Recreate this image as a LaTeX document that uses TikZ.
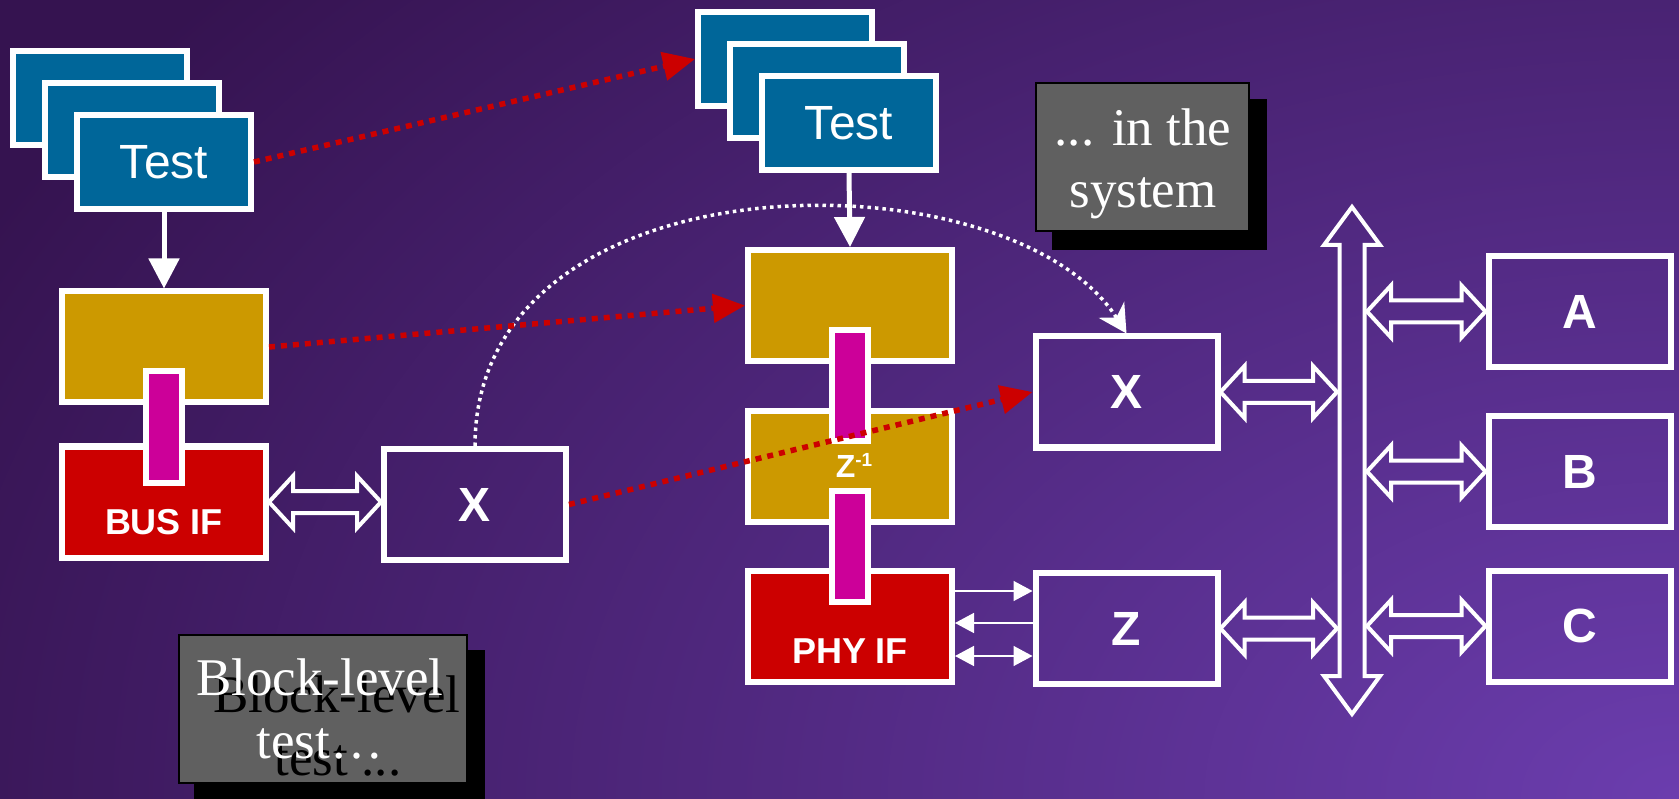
\documentclass[tikz,border=0pt]{standalone}
\usepackage{fontspec}
\setmainfont{Liberation Serif}
\newfontfamily\arial{Liberation Sans}
\usetikzlibrary{arrows.meta,calc}

\definecolor{bgdark}{HTML}{351350}
\definecolor{bglight}{HTML}{6B3DAE}
\definecolor{testblue}{HTML}{006699}
\definecolor{goldfill}{HTML}{CC9900}
\definecolor{busred}{HTML}{CC0000}
\definecolor{magfill}{HTML}{CC0099}
\definecolor{notegray}{HTML}{606060}

% backdrop glow, brightest in the lower right corner
\pgfdeclareradialshading{backglow}{\pgfpoint{0bp}{0bp}}{%
  color(0bp)=(bglight); color(25bp)=(bgdark); color(50bp)=(bgdark)}

\tikzset{
  blockbox/.style={draw=white, line width=6pt, inner sep=0pt, rectangle},
  testbox/.style={blockbox, fill=testblue, minimum width=174pt, minimum height=94pt,
    text=white, font=\arial\fontsize{48}{50}\selectfont},
  goldbox/.style={blockbox, fill=goldfill, minimum width=204pt, minimum height=111pt},
  redbox/.style={blockbox, fill=busred, minimum width=204pt, minimum height=111pt},
  magbar/.style={blockbox, fill=magfill, minimum width=36pt, minimum height=111pt},
  unitbox/.style={blockbox, minimum width=182pt, minimum height=111pt,
    text=white, font=\arial\bfseries\fontsize{48}{50}\selectfont},
  iflabel/.style={text=white, font=\arial\bfseries\fontsize{36}{38}\selectfont, anchor=base, inner sep=0pt},
  notebox/.style={draw=black, line width=2pt, fill=notegray, inner sep=0pt},
  notetext/.style={font=\fontsize{53}{60}\selectfont, anchor=base, inner sep=0pt},
  feed/.style={draw=white, line width=5pt, -{Triangle[length=30pt, width=30pt]}},
  reddots/.style={draw=busred, line width=5.5pt, dash pattern=on 6pt off 6pt,
    -{Triangle[length=32pt, width=28pt]}},
  whitedots/.style={draw=white, line width=3.5pt, dash pattern=on 3.5pt off 4pt,
    -{Stealth[length=28pt, width=30pt, inset=9pt]}},
  thinlink/.style={draw=white, line width=1.5pt},
  hollow/.style={draw=white, line width=4pt, line join=miter},
}

% horizontal hollow double arrow between two points at the same height
\newcommand\hollowpair[2]{%
  \draw[hollow] let \p1=#1, \p2=#2 in
    (\x1,\y1) -- ++(24pt,26pt) -- ++(0pt,-15pt) -- (\x2-24pt,\y1+11pt)
    -- ++(0pt,15pt) -- (\x2,\y1) -- ++(-24pt,-26pt) -- ++(0pt,15pt)
    -- (\x1+24pt,\y1-11pt) -- ++(0pt,-15pt) -- cycle;}

\begin{document}
\begin{tikzpicture}[x=1pt, y=-1pt]
\useasboundingbox (0,0) rectangle (1679,799);
\fill[bgdark] (0,0) rectangle (1679,799);
\begin{scope}
  \clip (0,0) rectangle (1679,799);
  \shade[shading=backglow] (-221,-471) rectangle (3579,2069);
\end{scope}

% --- block-level test bench (left) ---
\node[testbox] (tl1) at (100,98) {};
\node[testbox] (tl2) at (132,130) {};
\node[testbox] (tl3) at (164,162) {Test};

\node[goldbox] (gl) at (164,347) {};
\node[redbox] (busif) at (164,502) {};
\node[magbar] (ml) at (164,427) {};
\node[iflabel] at (busif.south |- 0,534) {BUS IF};

\node[unitbox] (xl) at (475,504.5) {X};

% --- system-level test bench (middle) ---
\node[testbox] (tm1) at (785,59) {};
\node[testbox] (tm2) at (817,91) {};
\node[testbox] (tm3) at (849,123) {Test};

\node[goldbox] (gt) at (850,305.5) {};
\node[goldbox] (gm) at (850,466.5) {};
\node[redbox] (phy) at (850,626.5) {};
\node[magbar] (mt) at (850,385.5) {};
\node[magbar] (mb) at (850,546) {};
\node[iflabel, font=\arial\bfseries\fontsize{32}{34}\selectfont] at ($(gm.south |- 0,477)+(4,0)$)
  {Z\raisebox{11pt}{\fontsize{19}{19}\selectfont -1}};
\node[iflabel] at (phy.south |- 0,663) {PHY IF};

% --- system units ---
\node[unitbox] (xr) at (1126.5,392) {X};
\node[unitbox] (z) at (1126.5,628.5) {Z};
\node[unitbox] (a) at (1579.5,311.5) {A};
\node[unitbox] (b) at (1579.5,471.5) {B};
\node[unitbox] (c) at (1579.5,626) {C};

% --- notes ---
\fill[black] (1052,99) rectangle (1267,250);
\node[notebox, minimum width=213pt, minimum height=148pt] (sysnote) at (1142.5,157) {};
\node[notetext, text=white] at (1143,146) {... in the};
\node[notetext, text=white] at (1143,208) {system};

\fill[black] (194,650) rectangle (485,800);
\node[notebox, minimum width=288pt, minimum height=148pt] (blknote) at (323,709) {};
\node[notetext, text=black] at (337,712) {Block-level};
\node[notetext, text=black] at (338,775) {test ...};
\node[notetext, text=white] at (320,695) {Block-level};
\node[notetext, text=white] at (320,758) {test…};

% --- system bus ---
\coordinate (busL) at (1337,0);
\coordinate (busR) at (1367,0);
\draw[hollow] (1352,207) -- (1380,245) -- (1364.5,245) -- (1364.5,676) -- (1380,676)
  -- (1352,714) -- (1324,676) -- (1339.5,676) -- (1339.5,245) -- (1324,245) -- cycle;

\hollowpair{(busif.east)}{(xl.west |- busif.east)}
\hollowpair{(xr.east)}{(busL |- xr.east)}
\hollowpair{(z.east)}{(busL |- z.east)}
\hollowpair{(busR |- a.west)}{(a.west)}
\hollowpair{(busR |- b.west)}{(b.west)}
\hollowpair{(busR |- c.west)}{(c.west)}

% --- PHY IF to Z signals ---
\draw[thinlink, -{Triangle[length=19pt, width=20pt]}] (phy.east |- 0,591) -- (z.west |- 0,591);
\draw[thinlink, -{Triangle[length=19pt, width=20pt]}] (z.west |- 0,623) -- (phy.east |- 0,623);
\draw[thinlink, {Triangle[length=19pt, width=20pt]}-{Triangle[length=19pt, width=20pt]}] (phy.east |- 0,656) -- (z.west |- 0,656);

% --- test feeds ---
\draw[feed] (tl3.south) -- (gl.north);
\draw[feed] (tm3.south) -- (gt.north);

% --- reuse of tests and units ---
\draw[whitedots] (xl.north) .. controls +(0,-295) and +(-116,-183) .. (xr.north);
\draw[reddots] (tl3.east) -- (tm1.west);
\draw[reddots] (gl.east) -- (gt.west);
\draw[reddots] (xl.east) -- (xr.west);
\end{tikzpicture}
\end{document}
